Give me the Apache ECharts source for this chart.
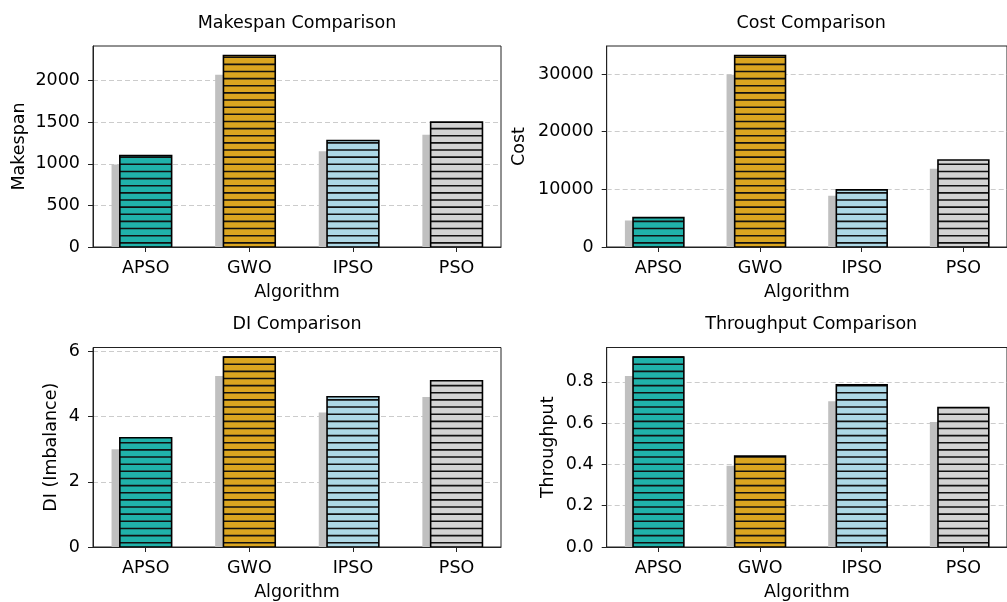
<!DOCTYPE html>
<html><head><meta charset="utf-8">
<script src="https://cdn.jsdelivr.net/npm/echarts@6/dist/echarts.min.js"></script>
<style>html,body{margin:0;padding:0;background:#fff}#c{width:1007px;height:602px}</style>
</head><body><div id="c"></div>
<script>
// ---- data ----
const categories = ['APSO', 'GWO', 'IPSO', 'PSO'];
const categoryPositions = [0, 1, 2, 3];
const barColors = ['#20B2AA', '#DAA520', '#ADD8E6', '#D3D3D3'];

const makespan = [1100, 2300, 1280, 1500];
const makespanShadow = [990, 2070, 1150, 1350];
const cost = [5100, 33200, 9900, 15100];
const costShadow = [4590, 29880, 8910, 13590];
const di = [3.35, 5.83, 4.61, 5.10];
const diShadow = [3.0, 5.25, 4.13, 4.60];
const throughput = [0.92, 0.44, 0.785, 0.675];
const throughputShadow = [0.828, 0.393, 0.706, 0.605];

const makespanTicks = [0, 500, 1000, 1500, 2000];
const costTicks = [0, 10000, 20000, 30000];
const diTicks = [0, 2, 4, 6];
const throughputTicks = [0, 0.2, 0.4, 0.6, 0.8];

const panels = [
  { title: 'Makespan Comparison', yName: 'Makespan', vals: makespan, shadow: makespanShadow, ticks: makespanTicks, fmt: v => String(v) },
  { title: 'Cost Comparison', yName: 'Cost', vals: cost, shadow: costShadow, ticks: costTicks, fmt: v => String(v) },
  { title: 'DI Comparison', yName: 'DI (Imbalance)', vals: di, shadow: diShadow, ticks: diTicks, fmt: v => String(v) },
  { title: 'Throughput Comparison', yName: 'Throughput', vals: throughput, shadow: throughputShadow, ticks: throughputTicks, fmt: v => v.toFixed(1) }
];

// ---- layout / style ----
const FONT = 'DejaVu Sans';
const FS = 17.5;
const grids = [
  { left: 93, top: 46, width: 408, height: 201, nameGap: 65 },
  { left: 606.7, top: 46, width: 409, height: 201, nameGap: 78 },
  { left: 93, top: 347.5, width: 408, height: 201, nameGap: 33 },
  { left: 606.7, top: 347.5, width: 409, height: 201, nameGap: 49 }
];
const X_MIN = -0.509, X_MAX = 3.429;
const BAR_W = 0.5, SHADOW_SHIFT = -0.08;
const HATCH_STEP = 7.14, HATCH_OFF = 164.3;
const AX = '#222';

function shadowRender(params, api) {
  const i = api.value(0), v = api.value(1);
  const p0 = api.coord([i + SHADOW_SHIFT - BAR_W / 2, v]);
  const p1 = api.coord([i + SHADOW_SHIFT + BAR_W / 2, 0]);
  return { type: 'rect', shape: { x: p0[0], y: p0[1], width: p1[0] - p0[0], height: p1[1] - p0[1] },
    style: { fill: '#c0c0c0' } };
}
function barRender(params, api) {
  const i = api.value(0), v = api.value(1);
  const p0 = api.coord([i - BAR_W / 2, v]);
  const p1 = api.coord([i + BAR_W / 2, 0]);
  const x = p0[0], y = p0[1], w = p1[0] - p0[0], h = p1[1] - p0[1];
  const children = [{ type: 'rect', shape: { x, y, width: w, height: h }, style: { fill: barColors[params.dataIndex] } }];
  let k = Math.ceil((y - HATCH_OFF) / HATCH_STEP);
  for (let yy = HATCH_OFF + k * HATCH_STEP; yy < y + h; yy += HATCH_STEP) {
    children.push({ type: 'line', shape: { x1: x, y1: yy, x2: x + w, y2: yy }, style: { stroke: '#111', lineWidth: 1.6 } });
  }
  children.push({ type: 'rect', shape: { x, y, width: w, height: h }, style: { fill: 'none', stroke: '#000', lineWidth: 1.6 } });
  return { type: 'group', children };
}

const txt = { fontFamily: FONT, fontSize: FS, color: '#000' };
const option = { animation: false, backgroundColor: '#fff', grid: [], xAxis: [], yAxis: [], series: [], graphic: [] };

panels.forEach((p, k) => {
  const g = grids[k];
  option.grid.push({ left: g.left, top: g.top, width: g.width, height: g.height, show: true, borderColor: AX, borderWidth: 1, containLabel: false });
  option.xAxis.push({
    gridIndex: k, type: 'value', min: X_MIN, max: X_MAX, splitLine: { show: false },
    axisLine: { show: true, onZero: false, lineStyle: { color: AX, width: 1 } },
    axisTick: { show: true, customValues: categoryPositions, length: 5, lineStyle: { color: AX } },
    axisLabel: { customValues: categoryPositions, formatter: v => categories[Math.round(v)], margin: 12, ...txt },
    name: 'Algorithm', nameLocation: 'middle', nameGap: 36, nameTextStyle: { ...txt }
  });
  const ymax = Math.max(...p.vals) * 1.05;
  option.yAxis.push({
    gridIndex: k, type: 'value', min: 0, max: ymax, interval: p.ticks[1] - p.ticks[0],
    axisLine: { show: true, onZero: false, lineStyle: { color: AX, width: 1 } },
    axisTick: { show: true, customValues: p.ticks, length: 5, lineStyle: { color: AX } },
    axisLabel: { customValues: p.ticks, formatter: p.fmt, margin: 13, ...txt },
    splitLine: { show: true, lineStyle: { type: [5, 3], color: '#cccccc', width: 1 } },
    name: p.yName, nameLocation: 'middle', nameGap: g.nameGap, nameRotate: 90, nameTextStyle: { ...txt }
  });
  option.series.push({
    type: 'custom', xAxisIndex: k, yAxisIndex: k, renderItem: shadowRender, clip: true,
    encode: { x: 0, y: 1 }, data: p.shadow.map((v, i) => [categoryPositions[i], v]), z: 2
  });
  option.series.push({
    type: 'custom', xAxisIndex: k, yAxisIndex: k, renderItem: barRender, clip: true,
    encode: { x: 0, y: 1 }, data: p.vals.map((v, i) => [categoryPositions[i], v]), z: 3
  });
  option.graphic.push({
    type: 'text', x: g.left + g.width / 2, y: k < 2 ? 23 : 324,
    style: { text: p.title, font: FS + 'px "' + FONT + '"', fill: '#000', align: 'center', verticalAlign: 'middle' }
  });
});

const chart = echarts.init(document.getElementById('c'), null, { renderer: 'canvas' });
chart.setOption(option);
</script>
</body></html>
